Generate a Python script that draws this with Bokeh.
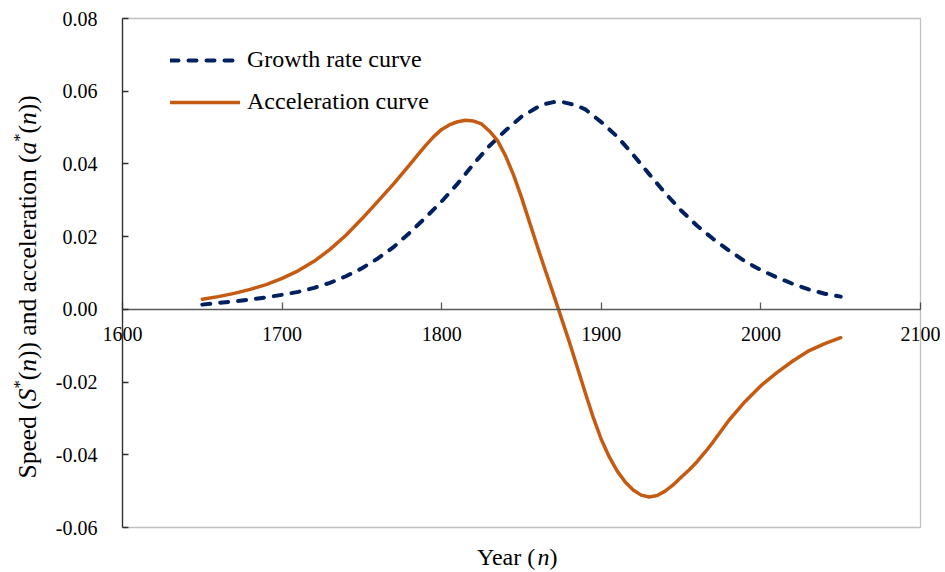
import math
from bokeh.plotting import figure
from bokeh.models import Range1d, FixedTicker, NumeralTickFormatter, Label, BoxAnnotation
from bokeh.embed import file_html
from bokeh.resources import INLINE

# ---- data ----
growth_years = [1650, 1660, 1670, 1680, 1690, 1700, 1710, 1720, 1730, 1740,
                1750, 1760, 1770, 1780, 1790, 1800, 1810, 1820, 1830, 1840,
                1850, 1860, 1865, 1870, 1875, 1880, 1885, 1890, 1900, 1910,
                1920, 1930, 1940, 1950, 1960, 1970, 1980, 1990, 2000, 2010,
                2020, 2030, 2040, 2050]
growth_rate = [0.0013, 0.0018, 0.0022, 0.0027, 0.0033, 0.0040, 0.0048, 0.0059, 0.0073, 0.0091,
               0.0113, 0.0140, 0.0172, 0.0211, 0.0253, 0.0297, 0.0346, 0.0400, 0.0450, 0.0492,
               0.0530, 0.0556, 0.0565, 0.0570, 0.0571, 0.0566, 0.0560, 0.0550, 0.0515, 0.0475,
               0.0425, 0.0372, 0.0320, 0.0272, 0.0230, 0.0194, 0.0162, 0.0132, 0.0108, 0.0088,
               0.0070, 0.0055, 0.0043, 0.0035]

accel_years = [1650, 1660, 1670, 1680, 1690, 1700, 1710, 1720, 1730, 1740,
               1750, 1760, 1770, 1780, 1785, 1790, 1795, 1800, 1805, 1810,
               1815, 1820, 1825, 1830, 1835, 1840, 1845, 1850, 1855, 1860,
               1865, 1870, 1880, 1885, 1890, 1895, 1900, 1905, 1910, 1915,
               1920, 1925, 1930, 1935, 1940, 1945, 1950, 1955, 1960, 1965,
               1970, 1980, 1990, 2000, 2010, 2020, 2030, 2040, 2050]
acceleration = [0.0028, 0.0035, 0.0044, 0.0055, 0.0068, 0.0085, 0.0106, 0.0132, 0.0165, 0.0204,
                0.0249, 0.0297, 0.0346, 0.0398, 0.0425, 0.0451, 0.0475, 0.0495, 0.0508, 0.0516,
                0.0520, 0.0518, 0.0510, 0.0490, 0.0464, 0.0422, 0.0370, 0.0308, 0.0240, 0.0172,
                0.0106, 0.0042, -0.0090, -0.0160, -0.0230, -0.0298, -0.0358, -0.0406, -0.0445, -0.0475,
                -0.0497, -0.0511, -0.0516, -0.0512, -0.0500, -0.0483, -0.0462, -0.0442, -0.0419, -0.0393,
                -0.0365, -0.0305, -0.0254, -0.0210, -0.0174, -0.0142, -0.0114, -0.0094, -0.0078]

x_ticks = [1600, 1700, 1800, 1900, 2000, 2100]
y_ticks = [-0.06, -0.04, -0.02, 0.0, 0.02, 0.04, 0.06, 0.08]
series_names = ["Growth rate curve", "Acceleration curve"]

FONT = "Liberation Serif"
NAVY = "#002060"
ORANGE = "#C55A11"
EDGE = "#303030"

# ---- layout: the frame covers the whole canvas; the plot area is a box inside it ----
W, H = 940, 570
AREA_L, AREA_R, AREA_T, AREA_B = 122.0, 920.0, 18.0, 527.0
XMIN, XMAX = x_ticks[0], x_ticks[-1]
YMIN, YMAX = y_ticks[0], y_ticks[-1]
sx = (AREA_R - AREA_L) / (XMAX - XMIN)
sy = (AREA_B - AREA_T) / (YMAX - YMIN)
x_lo = XMIN - AREA_L / sx
x_hi = x_lo + W / sx
y_hi = YMAX + AREA_T / sy
y_lo = y_hi - H / sy

p = figure(frame_width=W, frame_height=H, output_backend="svg", toolbar_location=None,
           x_range=Range1d(x_lo, x_hi), y_range=Range1d(y_lo, y_hi),
           min_border=0, min_border_left=0, min_border_right=0,
           min_border_top=0, min_border_bottom=0)
p.background_fill_color = "white"
p.border_fill_color = "white"
p.outline_line_color = None
p.xgrid.visible = False
p.ygrid.visible = False

p.add_layout(BoxAnnotation(left=XMIN, right=XMAX, bottom=YMIN, top=YMAX,
                           fill_alpha=0, line_color=EDGE, line_width=1.3))

p.line(growth_years, growth_rate, line_color=NAVY, line_width=4, line_dash="8 10",
       line_cap="round", line_join="round", legend_label=series_names[0])
p.line(accel_years, acceleration, line_color=ORANGE, line_width=3.5,
       line_cap="round", line_join="round", legend_label=series_names[1])

# x axis crossing at y = 0
xa = p.xaxis[0]
xa.fixed_location = 0
xa.bounds = (XMIN, XMAX)
xa.ticker = FixedTicker(ticks=x_ticks)
xa.minor_tick_line_color = None
xa.major_tick_in = 7
xa.major_tick_out = 0
xa.axis_line_color = "#595959"
xa.axis_line_width = 1.5
xa.major_tick_line_color = "#595959"
xa.major_tick_line_width = 1.3
xa.major_label_text_font = FONT
xa.major_label_text_font_size = "20px"
xa.major_label_text_color = "black"
xa.major_label_standoff = 18

ya = p.yaxis[0]
ya.fixed_location = XMIN
ya.bounds = (YMIN, YMAX)
ya.ticker = FixedTicker(ticks=y_ticks)
ya.formatter = NumeralTickFormatter(format="0.00")
ya.minor_tick_line_color = None
ya.major_tick_in = 6
ya.major_tick_out = 0
ya.axis_line_color = EDGE
ya.axis_line_width = 1.3
ya.major_tick_line_color = EDGE
ya.major_tick_line_width = 1.3
ya.major_label_text_font = FONT
ya.major_label_text_font_size = "20px"
ya.major_label_text_color = "black"
ya.major_label_standoff = 25

# legend
lg = p.legend[0]
lg.padding = 0
lg.margin = 0
lg.border_line_alpha = 0
lg.background_fill_alpha = 0
lg.label_text_font = FONT
lg.label_text_font_size = "24px"
lg.label_text_color = "black"
lg.glyph_width = 70
lg.glyph_height = 24
lg.label_height = 24
lg.label_standoff = 7
lg.spacing = 15
lg.location = (170, H - 115)


def lab(text, x, y, style="normal", size="24px", angle=0.0):
    p.add_layout(Label(x=x, y=y, x_units="screen", y_units="screen", text=text,
                       text_font=FONT, text_font_size=size, text_font_style=style,
                       text_color="black", text_align="left", text_baseline="alphabetic",
                       angle=angle))


# x axis title: "Year (n)"
FX = 24.0
x0, yb = 476.5, H - 556.0
lab("Year (", x0, yb, size="%.1fpx" % FX)
x0 += 2.526 * FX
lab("n", x0, yb, style="italic", size="%.1fpx" % FX)
x0 += 0.5 * FX
lab(")", x0, yb, size="%.1fpx" % FX)

# y axis title, rotated: "Speed (S*(n)) and acceleration (a*(n))"
FY = 25.5
A = math.pi / 2
bx = 27.0
sup_x = bx - 0.30 * FY
big = "%.1fpx" % FY
small = "%.1fpx" % (0.65 * FY)
y = H - 478.0
pieces = [
    ("Speed (", "normal", 3.027, False),
    ("S", "italic", 0.5, False),
    ("*", "normal", 0.5 * 0.65, True),
    ("(", "normal", 0.333, False),
    ("n", "italic", 0.5, False),
    (")) and acceleration (", "normal", 8.024, False),
    ("a", "italic", 0.5, False),
    ("*", "normal", 0.5 * 0.65, True),
    ("(", "normal", 0.333, False),
    ("n", "italic", 0.5, False),
    ("))", "normal", 0.666, False),
]
for txt, st, w, sup in pieces:
    if sup:
        lab(txt, sup_x, y, style=st, size=small, angle=A)
    else:
        lab(txt, bx, y, style=st, size=big, angle=A)
    y += w * FY

open("out.html", "w").write(file_html(p, INLINE))
